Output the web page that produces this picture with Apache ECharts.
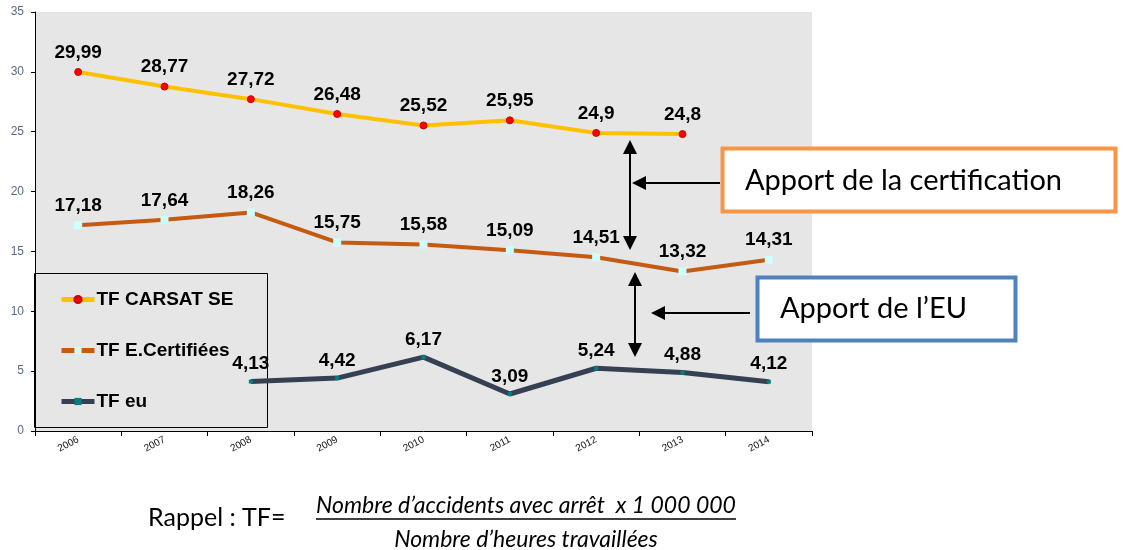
<!DOCTYPE html>
<html>
<head>
<meta charset="utf-8">
<script src="https://cdn.jsdelivr.net/npm/echarts@6/dist/echarts.min.js"></script>
<style>
html,body{margin:0;padding:0;background:#fff;}
#c{width:1123px;height:550px;}
</style>
</head>
<body>
<div id="c"></div>
<script>
const years = ['2006','2007','2008','2009','2010','2011','2012','2013','2014'];
const tfCarsat = [29.99, 28.77, 27.72, 26.48, 25.52, 25.95, 24.9, 24.8, null];
const tfCertifiees = [17.18, 17.64, 18.26, 15.75, 15.58, 15.09, 14.51, 13.32, 14.31];
const tfEu = [null, null, 4.13, 4.42, 6.17, 3.09, 5.24, 4.88, 4.12];
const yTicks = [0, 5, 10, 15, 20, 25, 30, 35];

const fmt = v => String(v).replace('.', ',');
const labelStyle = {
  show: true, position: 'top', distance: 6,
  fontFamily: 'Liberation Sans, Arial, sans-serif', fontWeight: 'bold', fontSize: 19, color: '#000',
  formatter: p => fmt(p.value)
};

const chart = echarts.init(document.getElementById('c'));

function arrowHead(x, y, dir) {
  const L = 14, W = 7;
  let pts;
  if (dir === 'up') pts = [[x, y], [x - W, y + L], [x + W, y + L]];
  else if (dir === 'down') pts = [[x, y], [x - W, y - L], [x + W, y - L]];
  else pts = [[x, y], [x + L, y - W], [x + L, y + W]];
  return { type: 'polygon', shape: { points: pts }, style: { fill: '#000' }, z: 10 };
}
function seg(x1, y1, x2, y2) {
  return { type: 'line', shape: { x1, y1, x2, y2 }, style: { stroke: '#000', lineWidth: 2 }, z: 10 };
}
const uiFont = 'Lato, "Open Sans", sans-serif';

chart.setOption({
  animation: false,
  backgroundColor: '#fff',
  grid: { left: 35, top: 12, right: 311, bottom: 119, show: true, backgroundColor: '#E6E6E6', borderWidth: 0 },
  xAxis: {
    type: 'category', data: years, boundaryGap: true,
    axisLine: { lineStyle: { color: '#000', width: 1 } },
    axisTick: { show: true, length: 5, lineStyle: { color: '#000' } },
    axisLabel: { rotate: 28, fontSize: 10, color: '#111', margin: 8, fontFamily: 'Liberation Sans, Arial, sans-serif' },
    splitLine: { show: false }
  },
  yAxis: {
    type: 'value', min: 0, max: 35, interval: 5,
    axisLine: { show: true, lineStyle: { color: '#000', width: 1 } },
    axisTick: { show: true, length: 4, lineStyle: { color: '#000' } },
    axisLabel: { fontSize: 12, color: '#5A6A85', margin: 11, fontFamily: 'Liberation Sans, Arial, sans-serif',
      formatter: v => yTicks.includes(v) ? String(v) : '' },
    splitLine: { show: false }
  },
  legend: {
    orient: 'vertical', left: 59, top: 290, padding: 0, itemGap: 32, itemWidth: 33, itemHeight: 9,
    lineStyle: { width: 5 },
    textStyle: { fontFamily: 'Liberation Sans, Arial, sans-serif', fontWeight: 'bold', fontSize: 19, color: '#000', padding: [0,0,0,-3] },
    data: ['TF CARSAT SE', 'TF E.Certifiées', 'TF eu']
  },
  series: [
    {
      name: 'TF CARSAT SE', type: 'line', data: tfCarsat, z: 3,
      lineStyle: { color: '#FFC000', width: 4 },
      itemStyle: { color: '#FF0000', borderColor: '#D00000', borderWidth: 1 },
      symbol: 'circle', symbolSize: 7, label: labelStyle
    },
    {
      name: 'TF E.Certifiées', type: 'line', data: tfCertifiees, z: 3,
      lineStyle: { color: '#C55A11', width: 4 },
      itemStyle: { color: '#CCFFFF' },
      symbol: 'rect', symbolSize: 8, label: labelStyle
    },
    {
      name: 'TF eu', type: 'line', data: tfEu, z: 3,
      lineStyle: { color: '#364052', width: 5 },
      itemStyle: { color: '#008080' },
      symbol: 'rect', symbolSize: 4, label: labelStyle
    }
  ],
  graphic: [
    { type: 'rect', shape: { x: 34.5, y: 273.5, width: 233, height: 154 }, style: { fill: 'rgba(0,0,0,0)', stroke: '#000', lineWidth: 1 }, z: 1 },
    seg(630, 152, 630, 238), arrowHead(630, 140, 'up'), arrowHead(630, 250, 'down'),
    seg(644, 183, 720, 183), arrowHead(632, 183, 'left'),
    seg(635, 286, 635, 345), arrowHead(635, 272, 'up'), arrowHead(635, 357, 'down'),
    seg(664, 313, 750, 313), arrowHead(651, 313, 'left'),
    { type: 'rect', shape: { x: 722.5, y: 148.5, width: 393, height: 63 }, style: { fill: '#fff', stroke: '#F79646', lineWidth: 4 }, z: 10 },
    { type: 'text', x: 745, y: 181, style: { text: 'Apport de la certification', font: '29px ' + uiFont, fill: '#000', verticalAlign: 'middle' }, z: 11 },
    { type: 'rect', shape: { x: 757.5, y: 277.5, width: 258, height: 63 }, style: { fill: '#fff', stroke: '#4F81BD', lineWidth: 4 }, z: 10 },
    { type: 'text', x: 780, y: 309, style: { text: 'Apport de l\u2019EU', font: '29px ' + uiFont, fill: '#000', verticalAlign: 'middle' }, z: 11 },
    { type: 'text', x: 148, y: 518, style: { text: 'Rappel : TF=', font: '25px ' + uiFont, fill: '#000', verticalAlign: 'middle' }, z: 11 },
    { type: 'text', x: 526, y: 506, style: { text: 'Nombre d\u2019accidents avec arrêt  x 1 000 000', font: 'italic 23px ' + uiFont, fill: '#000', verticalAlign: 'middle', align: 'center' }, z: 11 },
    { type: 'line', shape: { x1: 316, y1: 519, x2: 736, y2: 519 }, style: { stroke: '#000', lineWidth: 1.5 }, z: 11 },
    { type: 'text', x: 526, y: 540, style: { text: 'Nombre d\u2019heures travaillées', font: 'italic 23px ' + uiFont, fill: '#000', verticalAlign: 'middle', align: 'center' }, z: 11 }
  ]
});
</script>
</body>
</html>
